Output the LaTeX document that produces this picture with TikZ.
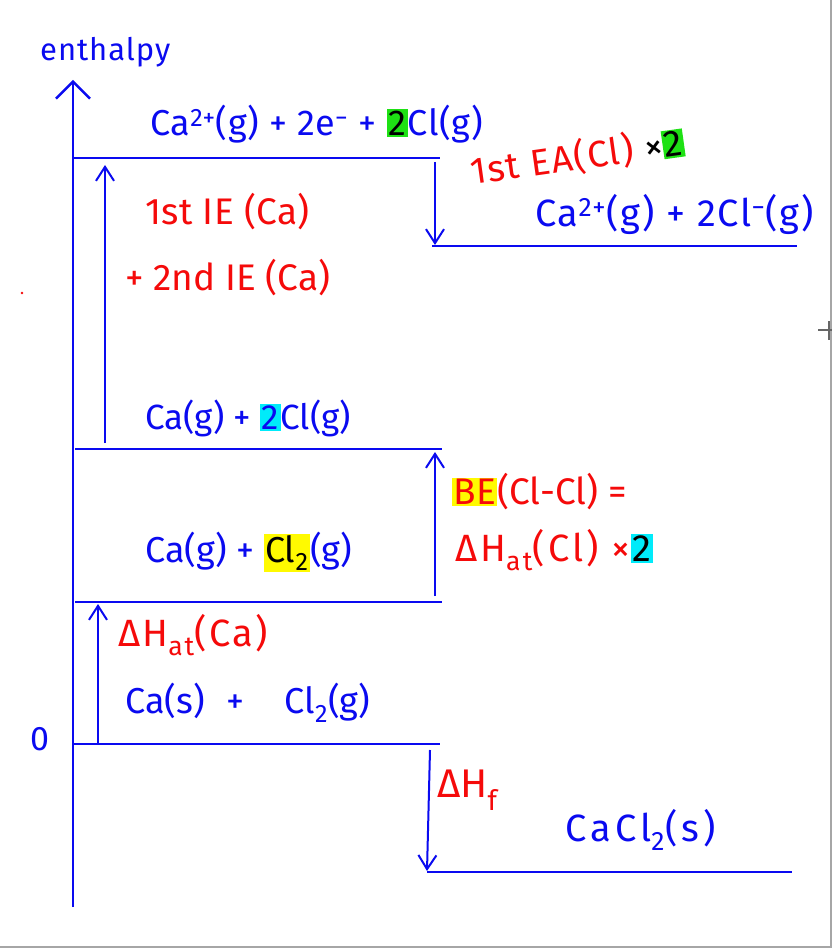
\documentclass[tikz,border=0pt]{standalone}
\usepackage{fontspec}
\setmainfont{Fira Sans}
\usetikzlibrary{arrows.meta}
\definecolor{pen}{RGB}{10,10,240}
\definecolor{ink}{RGB}{245,10,10}
\definecolor{hlgreen}{RGB}{30,225,20}
\definecolor{hlcyan}{RGB}{0,235,250}
\definecolor{hlyellow}{RGB}{255,250,0}
\newcommand\hlt[3]{{\setlength\fboxsep{1.5pt}\colorbox{#1}{\textcolor{#2}{#3}}}}
\newcommand\fsz[1]{\fontsize{#1}{#1}\selectfont}
\newcommand\spaced[1]{\addfontfeature{LetterSpace=#1}}
\tikzset{
  txt/.style={font=\fsz{36}, inner sep=0pt, anchor=west},
  bluetxt/.style={txt, text=pen},
  redtxt/.style={txt, text=ink},
  level/.style={draw=pen, line width=2.4pt},
  trans/.style={draw=pen, line width=2pt, -{Straight Barb[length=14pt,width=18pt,line width=2pt]}},
}
\begin{document}
\begin{tikzpicture}[x=1pt,y=-1pt]
\useasboundingbox (0,0) rectangle (832,949);
\fill[white] (0,0) rectangle (832,949);
% frame edges
\coordinate (fr1) at (831,0); \coordinate (fr2) at (831,947); \coordinate (fr3) at (0,947);
\draw[gray!70, line width=1.5pt] (fr1) -- (fr2) -- (fr3);
% cursor cross and stray dot
\coordinate (cx1) at (818,330); \coordinate (cx2) at (832,330);
\coordinate (cy1) at (829,321); \coordinate (cy2) at (829,340);
\draw[gray!80!black, line width=1.2pt] (cx1) -- (cx2) (cy1) -- (cy2);
\fill[ink] (22,293) circle (1.3pt);

% axis
\coordinate (axb) at (73,907); \coordinate (axt) at (73,80);
\draw[draw=pen, line width=2.4pt, -{Straight Barb[length=17pt,width=34pt,line width=2.4pt]}] (axb) -- (axt);
\node[bluetxt, font=\fsz{31}\spaced{3}] (enth) at (40,52) {enthalpy};
\node[bluetxt, font=\fsz{34}] (zero) at (30,739) {0};

% levels
\coordinate (L1a) at (73,158); \coordinate (L1b) at (440,158);
\coordinate (L2a) at (432,246); \coordinate (L2b) at (797,246);
\coordinate (L3a) at (75,449); \coordinate (L3b) at (442,449);
\coordinate (L4a) at (75,602); \coordinate (L4b) at (442,602);
\coordinate (L5a) at (73,744); \coordinate (L5b) at (440,744);
\coordinate (L6a) at (427,872); \coordinate (L6b) at (792,872);
\foreach \a/\b in {L1a/L1b,L2a/L2b,L3a/L3b,L4a/L4b,L5a/L5b,L6a/L6b}
  \draw[level] (\a) -- (\b);

% transitions
\coordinate (ie0) at (105,443); \coordinate (ie1) at (105,165);
\coordinate (ea0) at (435,162); \coordinate (ea1) at (435,245);
\coordinate (be0) at (435,596); \coordinate (be1) at (435,452);
\coordinate (at0) at (98,744); \coordinate (at1) at (98,604);
\coordinate (hf0) at (430,750); \coordinate (hf1) at (427,871);
\draw[trans] (ie0) -- (ie1);
\draw[trans] (ea0) -- (ea1);
\draw[trans] (be0) -- (be1);
\draw[trans] (at0) -- (at1);
\draw[trans] (hf0) -- (hf1);

% species
\node[bluetxt, font=\fsz{36}\spaced{2}] (s1) at (150,124) {Ca\textsuperscript{2+}(g) + 2e\textsuperscript{−} + \hlt{hlgreen}{black}{2}Cl(g)};
\node[bluetxt, font=\fsz{38}\spaced{5}] (s2) at (535,214) {Ca\textsuperscript{2+}(g) + 2Cl\textsuperscript{−}(g)};
\node[bluetxt, font=\fsz{35}] (s3) at (145,418) {Ca(g) + \hlt{hlcyan}{pen}{2}Cl(g)};
\node[bluetxt, font=\fsz{36}] (s4) at (145,552) {Ca(g) + \hlt{hlyellow}{black}{Cl\textsubscript{2}}(g)};
\node[bluetxt, font=\fsz{36}] (s5) at (125,703) {Ca(s)\hspace{22pt}+\hspace{40pt}Cl\textsubscript{2}(g)};
\node[bluetxt, font=\fsz{38}\spaced{11}] (s6) at (565,830) {CaCl\textsubscript{2}(s)};

% labels
\node[redtxt, rotate=8, font=\fsz{37}\spaced{4}] (ea) at (470,172) {1st EA(Cl) \textcolor{black}{×}\hlt{hlgreen}{black}{2}};
\node[redtxt, font=\fsz{37}\spaced{1}] (ie1t) at (145,212) {1st IE (Ca)};
\node[redtxt, font=\fsz{37}] (ie2t) at (125,278) {+ 2nd IE (Ca)};
\node[redtxt, font=\fsz{37}] (be) at (452,492) {\hlt{hlyellow}{ink}{BE}(Cl-Cl) =};
\node[redtxt, font=\fsz{38}\spaced{8}] (bat) at (455,550) {ΔH\textsubscript{at}(Cl) ×\hlt{hlcyan}{black}{2}};
\node[redtxt, font=\fsz{38}\spaced{6}] (atca) at (118,635) {ΔH\textsubscript{at}(Ca)};
\node[redtxt, font=\fsz{40}] (hf) at (437,790) {ΔH\textsubscript{f}};
\end{tikzpicture}
\end{document}
